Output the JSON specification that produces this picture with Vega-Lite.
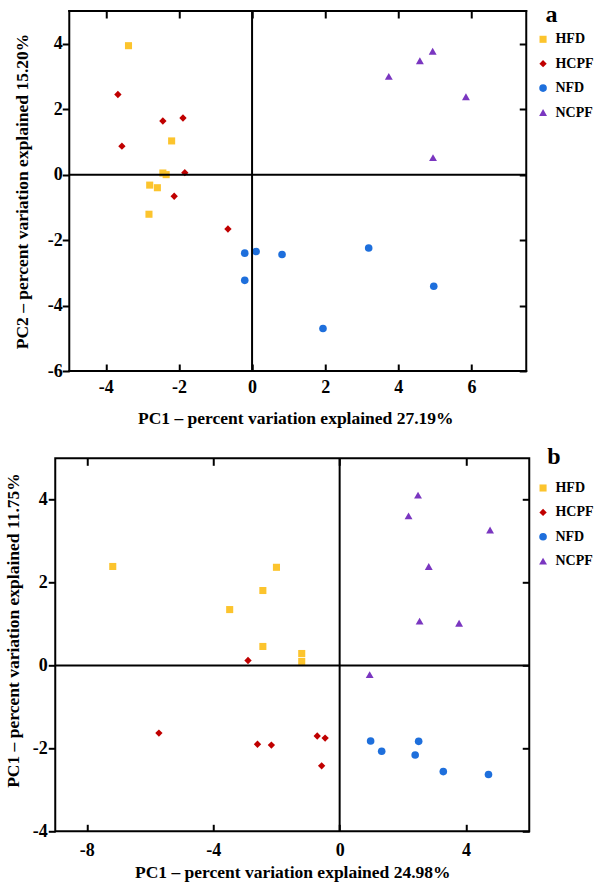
{
  "$schema": "https://vega.github.io/schema/vega-lite/v6.json",
  "background": "white",
  "padding": {"left": 2.25, "top": 3, "right": 0, "bottom": 0},
  "spacing": 16.3,
  "resolve": {"scale": {"color": "independent", "shape": "independent", "size": "independent"}},
  "config": {
    "view": {"stroke": "black", "strokeWidth": 2},
    "axis": {
      "labelFont": "Liberation Serif", "labelFontSize": 18, "labelFontWeight": "bold", "labelColor": "black",
      "titleFont": "Liberation Serif", "titleFontSize": 17.5, "titleFontWeight": "bold", "titleColor": "black",
      "tickColor": "black", "tickWidth": 2, "domain": false, "grid": false
    },
    "legend": {
      "labelFont": "Liberation Serif", "labelFontSize": 14, "labelFontWeight": "bold", "labelColor": "black",
      "titleFont": "Liberation Serif", "titleFontSize": 24, "titleFontWeight": "bold", "titleColor": "black",
      "titleBaseline": "top", "titleAnchor": "start",
      "rowPadding": 10.4, "padding": 0, "symbolStrokeWidth": 0, "labelOffset": 5.4
    }
  },
  "datasets": {
    "a": [
      {"group": "HFD", "pc1": -3.38, "pc2": 3.94},
      {"group": "HFD", "pc1": -2.2, "pc2": 1.03},
      {"group": "HFD", "pc1": -2.44, "pc2": 0.05},
      {"group": "HFD", "pc1": -2.35, "pc2": 0.0},
      {"group": "HFD", "pc1": -2.8, "pc2": -0.32},
      {"group": "HFD", "pc1": -2.59, "pc2": -0.4},
      {"group": "HFD", "pc1": -2.82, "pc2": -1.21},
      {"group": "HCPF", "pc1": -3.67, "pc2": 2.45},
      {"group": "HCPF", "pc1": -2.44, "pc2": 1.64},
      {"group": "HCPF", "pc1": -1.89, "pc2": 1.73},
      {"group": "HCPF", "pc1": -3.56, "pc2": 0.87},
      {"group": "HCPF", "pc1": -1.84, "pc2": 0.06},
      {"group": "HCPF", "pc1": -2.13, "pc2": -0.66},
      {"group": "HCPF", "pc1": -0.66, "pc2": -1.66},
      {"group": "NFD", "pc1": -0.2, "pc2": -2.4},
      {"group": "NFD", "pc1": 0.11, "pc2": -2.35},
      {"group": "NFD", "pc1": 0.82, "pc2": -2.44},
      {"group": "NFD", "pc1": -0.2, "pc2": -3.23},
      {"group": "NFD", "pc1": 3.19, "pc2": -2.24},
      {"group": "NFD", "pc1": 4.97, "pc2": -3.41},
      {"group": "NFD", "pc1": 1.94, "pc2": -4.7},
      {"group": "NCPF", "pc1": 3.74, "pc2": 3.0},
      {"group": "NCPF", "pc1": 4.59, "pc2": 3.48},
      {"group": "NCPF", "pc1": 4.94, "pc2": 3.77},
      {"group": "NCPF", "pc1": 5.85, "pc2": 2.38},
      {"group": "NCPF", "pc1": 4.95, "pc2": 0.52}
    ],
    "b": [
      {"group": "HFD", "pc1": -7.18, "pc2": 2.39},
      {"group": "HFD", "pc1": -2.0, "pc2": 2.37},
      {"group": "HFD", "pc1": -2.43, "pc2": 1.81},
      {"group": "HFD", "pc1": -3.48, "pc2": 1.35},
      {"group": "HFD", "pc1": -2.43, "pc2": 0.46},
      {"group": "HFD", "pc1": -1.2, "pc2": 0.29},
      {"group": "HFD", "pc1": -1.2, "pc2": 0.1},
      {"group": "HCPF", "pc1": -2.9, "pc2": 0.12},
      {"group": "HCPF", "pc1": -5.72, "pc2": -1.63},
      {"group": "HCPF", "pc1": -2.6, "pc2": -1.9},
      {"group": "HCPF", "pc1": -2.16, "pc2": -1.92},
      {"group": "HCPF", "pc1": -0.71, "pc2": -1.7},
      {"group": "HCPF", "pc1": -0.46, "pc2": -1.75},
      {"group": "HCPF", "pc1": -0.57, "pc2": -2.42},
      {"group": "NFD", "pc1": 0.98, "pc2": -1.82},
      {"group": "NFD", "pc1": 1.33, "pc2": -2.07},
      {"group": "NFD", "pc1": 2.5, "pc2": -1.83},
      {"group": "NFD", "pc1": 2.39, "pc2": -2.16},
      {"group": "NFD", "pc1": 3.28, "pc2": -2.56},
      {"group": "NFD", "pc1": 4.71, "pc2": -2.63},
      {"group": "NCPF", "pc1": 2.48, "pc2": 4.11},
      {"group": "NCPF", "pc1": 2.18, "pc2": 3.61},
      {"group": "NCPF", "pc1": 4.76, "pc2": 3.27},
      {"group": "NCPF", "pc1": 2.82, "pc2": 2.39},
      {"group": "NCPF", "pc1": 2.53, "pc2": 1.07},
      {"group": "NCPF", "pc1": 3.78, "pc2": 1.02},
      {"group": "NCPF", "pc1": 0.95, "pc2": -0.22}
    ],
    "one": [{"k": 1}]
  },
  "vconcat": [
    {
      "width": 471,
      "height": 360,
      "view": {"stroke": null},
      "resolve": {"axis": {"x": "independent", "y": "independent"}},
      "layer": [
        {
          "data": {"name": "a"},
          "mark": {"type": "point", "filled": true, "opacity": 1},
          "encoding": {
            "x": {"field": "pc1", "type": "quantitative", "scale": {"domain": [-5.3836, 7.5], "nice": false, "zero": false},
              "axis": {"orient": "bottom", "values": [-4, -2, 0, 2, 4, 6], "tickSize": -7, "labelPadding": 14.4, "titlePadding": 13, "titleX": 240,
                "labelExpr": "toString(datum.value)", "title": "PC1 – percent variation explained 27.19%"}},
            "y": {"field": "pc2", "type": "quantitative", "scale": {"domain": [-6, 5], "nice": false, "zero": false},
              "axis": {"orient": "left", "offset": -14, "values": [-6, -4, -2, 0, 2, 4], "tickSize": 7, "labelPadding": 0, "titlePadding": 16,
                "labelExpr": "toString(datum.value)", "title": "PC2 – percent variation explained 15.20%"}},
            "color": {"field": "group", "type": "nominal",
              "scale": {"domain": ["HFD", "HCPF", "NFD", "NCPF"], "range": ["#FCC42D", "#C00000", "#1E6FDC", "#7A36C0"]},
              "legend": {"orient": "none", "legendX": 490.2, "legendY": -7.7, "title": "a", "titlePadding": 5, "symbolOffset": -9.4}},
            "shape": {"field": "group", "type": "nominal",
              "scale": {"domain": ["HFD", "HCPF", "NFD", "NCPF"], "range": ["square", "diamond", "circle", "triangle-up"]},
              "legend": {"orient": "none", "legendX": 490.2, "legendY": -7.7, "title": "a", "titlePadding": 5, "symbolOffset": -9.4}},
            "size": {"field": "group", "type": "nominal",
              "scale": {"domain": ["HFD", "HCPF", "NFD", "NCPF"], "range": [50, 62, 52, 85]},
              "legend": {"orient": "none", "legendX": 490.2, "legendY": -7.7, "title": "a", "titlePadding": 5, "symbolOffset": -9.4}}
          }
        },
        {
          "data": {"name": "one"},
          "mark": {"type": "rule", "color": "black", "strokeWidth": 2},
          "encoding": {
            "y": {"datum": 0, "type": "quantitative", "scale": {"domain": [-6, 5], "nice": false, "zero": false},
              "axis": {"orient": "right", "values": [-6, -4, -2, 0, 2, 4], "tickSize": -7, "labels": false, "title": null}},
            "x": {"datum": -5, "type": "quantitative", "scale": {"domain": [-5.3836, 7.5], "nice": false, "zero": false}, "axis": null},
            "x2": {"datum": 7.5}
          }
        },
        {
          "data": {"name": "one"},
          "mark": {"type": "rule", "color": "black", "strokeWidth": 2},
          "encoding": {
            "x": {"datum": 0, "type": "quantitative", "scale": {"domain": [-5.3836, 7.5], "nice": false, "zero": false},
              "axis": {"orient": "top", "values": [-4, -2, 0, 2, 4, 6], "tickSize": -7, "labels": false, "title": null}}
          }
        },
        {
          "data": {"name": "one"},
          "mark": {"type": "rule", "color": "black", "strokeWidth": 2, "strokeCap": "square"},
          "encoding": {
            "x": {"datum": -5, "type": "quantitative", "scale": {"domain": [-5.3836, 7.5], "nice": false, "zero": false}, "axis": null}
          }
        },
        {
          "data": {"name": "one"},
          "mark": {"type": "rule", "color": "black", "strokeWidth": 2, "strokeCap": "square"},
          "encoding": {
            "x": {"datum": 7.5, "type": "quantitative", "scale": {"domain": [-5.3836, 7.5], "nice": false, "zero": false}, "axis": null}
          }
        },
        {
          "data": {"name": "one"},
          "mark": {"type": "rule", "color": "black", "strokeWidth": 2, "strokeCap": "square"},
          "encoding": {
            "y": {"datum": 5, "type": "quantitative", "scale": {"domain": [-6, 5], "nice": false, "zero": false}, "axis": null},
            "x": {"datum": -5, "type": "quantitative", "scale": {"domain": [-5.3836, 7.5], "nice": false, "zero": false}, "axis": null},
            "x2": {"datum": 7.5}
          }
        },
        {
          "data": {"name": "one"},
          "mark": {"type": "rule", "color": "black", "strokeWidth": 2, "strokeCap": "square"},
          "encoding": {
            "y": {"datum": -6, "type": "quantitative", "scale": {"domain": [-6, 5], "nice": false, "zero": false}, "axis": null},
            "x": {"datum": -5, "type": "quantitative", "scale": {"domain": [-5.3836, 7.5], "nice": false, "zero": false}, "axis": null},
            "x2": {"datum": 7.5}
          }
        }
      ]
    },
    {
      "width": 474,
      "height": 373,
      "resolve": {"axis": {"x": "independent", "y": "independent"}},
      "layer": [
        {
          "data": {"name": "b"},
          "mark": {"type": "point", "filled": true, "opacity": 1},
          "encoding": {
            "x": {"field": "pc1", "type": "quantitative", "scale": {"domain": [-9, 6], "nice": false, "zero": false},
              "axis": {"orient": "bottom", "values": [-8, -4, 0, 4], "tickSize": -7, "labelPadding": 17, "titlePadding": 3.7,
                "labelExpr": "toString(datum.value)", "title": "PC1 – percent variation explained 24.98%"}},
            "y": {"field": "pc2", "type": "quantitative", "scale": {"domain": [-4, 5], "nice": false, "zero": false},
              "axis": {"orient": "left", "values": [-4, -2, 0, 2, 4], "tickSize": 7, "labelPadding": 1, "titlePadding": 10.25, "titleY": 171.7,
                "labelExpr": "toString(datum.value)", "title": "PC1 – percent variation explained 11.75%"}},
            "color": {"field": "group", "type": "nominal",
              "scale": {"domain": ["HFD", "HCPF", "NFD", "NCPF"], "range": ["#FCC42D", "#C00000", "#1E6FDC", "#7A36C0"]},
              "legend": {"orient": "none", "legendX": 492, "legendY": -13.3, "title": "b", "titlePadding": 12, "symbolOffset": -11.2}},
            "shape": {"field": "group", "type": "nominal",
              "scale": {"domain": ["HFD", "HCPF", "NFD", "NCPF"], "range": ["square", "diamond", "circle", "triangle-up"]},
              "legend": {"orient": "none", "legendX": 492, "legendY": -13.3, "title": "b", "titlePadding": 12, "symbolOffset": -11.2}},
            "size": {"field": "group", "type": "nominal",
              "scale": {"domain": ["HFD", "HCPF", "NFD", "NCPF"], "range": [50, 62, 52, 85]},
              "legend": {"orient": "none", "legendX": 492, "legendY": -13.3, "title": "b", "titlePadding": 12, "symbolOffset": -11.2}}
          }
        },
        {
          "data": {"name": "one"},
          "mark": {"type": "rule", "color": "black", "strokeWidth": 2},
          "encoding": {
            "y": {"datum": 0, "type": "quantitative", "scale": {"domain": [-4, 5], "nice": false, "zero": false},
              "axis": {"orient": "right", "values": [-4, -2, 0, 2, 4], "tickSize": -7, "labels": false, "title": null}}
          }
        },
        {
          "data": {"name": "one"},
          "mark": {"type": "rule", "color": "black", "strokeWidth": 2},
          "encoding": {
            "x": {"datum": 0, "type": "quantitative", "scale": {"domain": [-9, 6], "nice": false, "zero": false},
              "axis": {"orient": "top", "values": [-8, -4, 0, 4], "tickSize": -7, "labels": false, "title": null}}
          }
        }
      ]
    }
  ]
}
